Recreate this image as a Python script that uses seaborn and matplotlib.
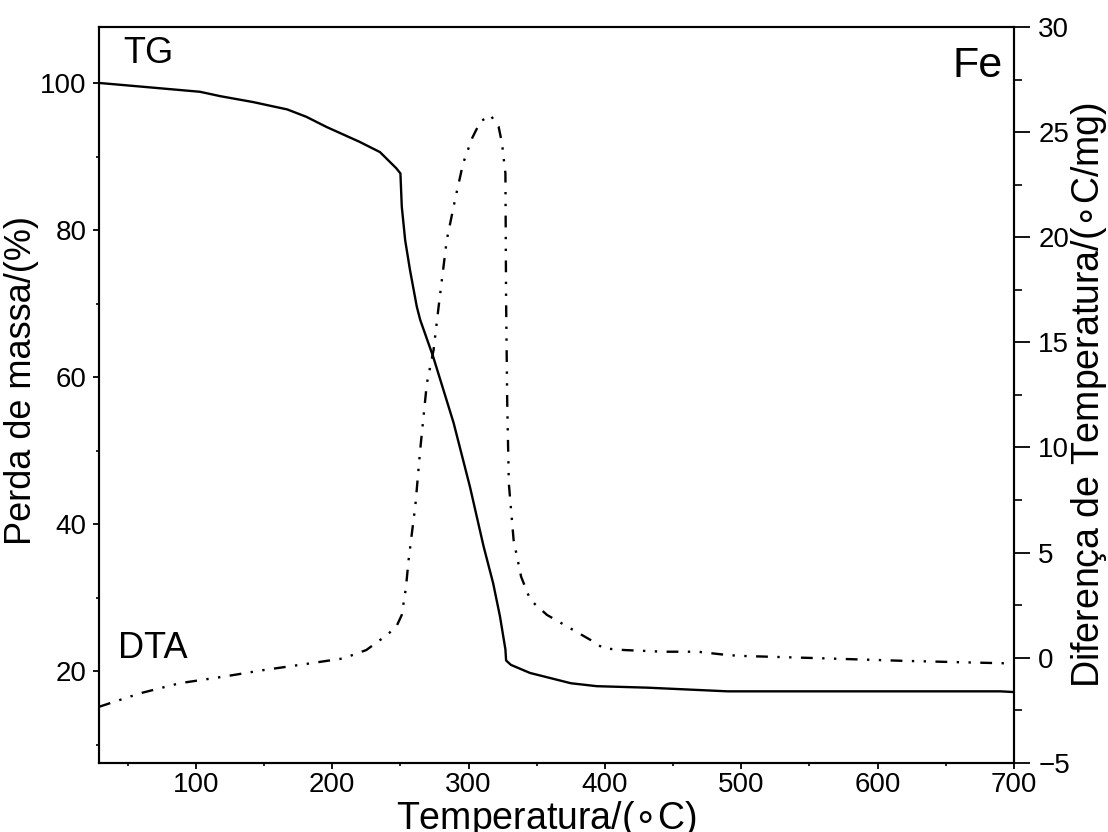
import numpy as np
import pandas as pd
import matplotlib
matplotlib.use("Agg")
import matplotlib.pyplot as plt
import seaborn as sns

# TG curve (mass loss, left axis)
tg_temp = [29, 60, 103, 118, 142, 167, 181, 196, 220, 235, 247, 250, 251, 253.5, 257,
           262, 264.5, 274, 289, 301, 311, 318, 323, 327, 327.5, 331, 345, 360, 375,
           394, 431, 490, 550, 690, 700]
tg_mass = [100, 99.5, 98.8, 98.2, 97.4, 96.4, 95.4, 94.0, 92.0, 90.6, 88.4, 87.7, 83.2,
           78.6, 74.6, 69.6, 67.8, 62.8, 53.8, 45.1, 37.0, 32.0, 27.5, 23.0, 21.5, 20.9,
           19.8, 19.1, 18.4, 18.0, 17.8, 17.3, 17.3, 17.3, 17.2]

# DTA curve (right axis)
dta_temp = [29, 59, 88, 120, 150, 179, 208, 225, 240, 247, 251, 254, 256, 258.4, 261,
            264.5, 269.4, 274.3, 278, 284, 290, 296, 302.5, 308.6, 316, 322, 324.5, 327,
            327.2, 327.5, 328.3, 329.5, 333, 338.5, 345.3, 357.5, 374.7, 389.4, 399, 414,
            443, 468, 490, 500, 558, 617, 673, 700]
dta_val = [-2.34, -1.70, -1.22, -0.91, -0.59, -0.32, -0.04, 0.36, 1.07, 1.47, 2.03, 3.3,
           4.64, 5.91, 7.26, 9.88, 13.05, 14.63, 16.69, 19.87, 21.77, 23.52, 24.70, 25.5,
           25.81, 25.26, 24.47, 23.04, 20.66, 17.0, 12.25, 8.29, 5.6, 3.85, 2.74, 2.03,
           1.39, 0.84, 0.44, 0.36, 0.28, 0.28, 0.12, 0.08, -0.03, -0.15, -0.24, -0.28]

tg = pd.DataFrame({"T": tg_temp, "m": tg_mass})
dta = pd.DataFrame({"T": dta_temp, "d": dta_val})

sns.set_style("ticks")
plt.rcParams["font.family"] = ["Liberation Sans", "DejaVu Sans"]
plt.rcParams["mathtext.fontset"] = "dejavusans"
for k in ["text.color", "axes.labelcolor", "xtick.color", "ytick.color", "axes.edgecolor"]:
    plt.rcParams[k] = "black"

fig = plt.figure(figsize=(11.08, 8.32), dpi=100)
ax = fig.add_axes([0.0894, 0.0833, 0.9152 - 0.0894, 0.9675 - 0.0833])
ax2 = ax.twinx()

sns.lineplot(data=tg, x="T", y="m", ax=ax, color="black", linewidth=1.7,
             sort=False, estimator=None)
sns.lineplot(data=dta, x="T", y="d", ax=ax2, color="black", linewidth=1.7,
             sort=False, estimator=None)
ax2.lines[0].set_dashes([5, 4, 1, 4, 1, 4])

ax.set_xlim(29, 700)
ax.set_ylim(7.6, 107.6)
ax2.set_ylim(-5, 30)

ax.set_xticks([100, 200, 300, 400, 500, 600, 700])
ax.set_xticks(np.arange(50, 700, 100), minor=True)
ax.set_yticks([20, 40, 60, 80, 100])
ax.set_yticks([10, 30, 50, 70, 90], minor=True)
ax2.set_yticks([-5, 0, 5, 10, 15, 20, 25, 30])
ax2.set_yticks(np.arange(-2.5, 30, 5), minor=True)

for a in (ax, ax2):
    for s in a.spines.values():
        s.set_visible(True)
        s.set_linewidth(1.5)
        s.set_color("black")

ax.tick_params(axis="both", which="major", labelsize=20, length=4, width=1.3,
               direction="out", pad=5, top=False, right=False)
ax.tick_params(axis="x", which="major", pad=3)
ax.tick_params(axis="both", which="minor", length=2.5, width=1.2, top=False, right=False)
ax2.tick_params(axis="y", which="major", labelsize=20, length=11.5, width=1.3,
                direction="out", pad=6)
ax2.tick_params(axis="y", which="minor", length=6, width=1.2)

ax.set_xlabel(r"Temperatura/($\circ$C)", fontsize=27)
ax.xaxis.set_label_coords(0.489, -0.049)
ax.set_ylabel("Perda de massa/(%)", fontsize=26, labelpad=6)
ax.yaxis.set_label_coords(-0.066, 0.52)
ax2.set_ylabel(r"Diferença de Temperatura/($\circ$C/mg)", fontsize=27, labelpad=-1)

ax.text(0.026, 0.951, "TG", transform=ax.transAxes, fontsize=26, ha="left", va="baseline")
ax.text(0.021, 0.142, "DTA", transform=ax.transAxes, fontsize=26, ha="left", va="baseline")
ax.text(0.988, 0.932, "Fe", transform=ax.transAxes, fontsize=31, ha="right", va="baseline")

fig.savefig("out.png", dpi=100)
